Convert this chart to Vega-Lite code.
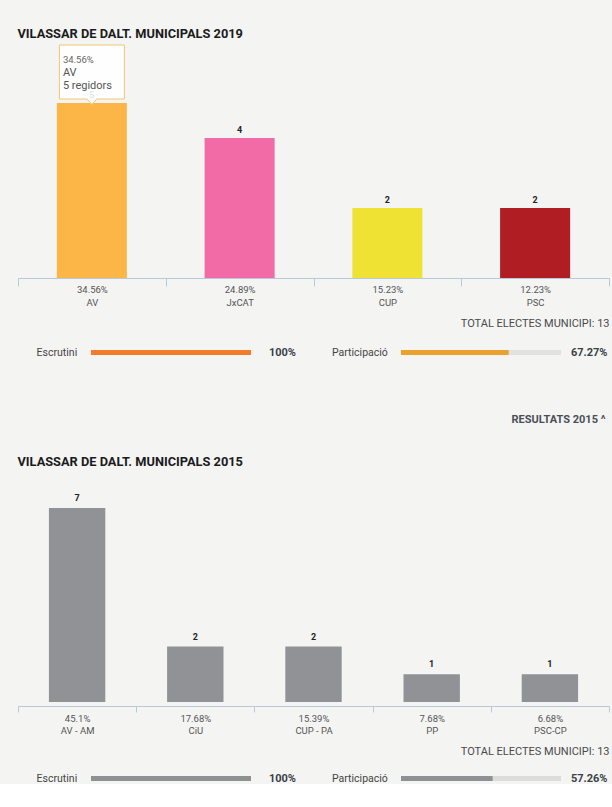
{
  "$schema": "https://vega.github.io/schema/vega-lite/v6.json",
  "background": "#f4f4f3",
  "padding": {"left": 17, "top": 28, "right": 3, "bottom": 0},
  "config": {
    "view": {"stroke": null},
    "font": "Roboto",
    "title": {"font": "Roboto"},
    "axis": {"labelFont": "Roboto", "titleFont": "Roboto"}
  },
  "datasets": {
    "r2019": [
      {"party": "AV", "pct": "34.56%", "seats": 5, "seatsText": "5 regidors", "xlabel": "34.56%|AV"},
      {"party": "JxCAT", "pct": "24.89%", "seats": 4, "seatsText": "4 regidors", "xlabel": "24.89%|JxCAT"},
      {"party": "CUP", "pct": "15.23%", "seats": 2, "seatsText": "2 regidors", "xlabel": "15.23%|CUP"},
      {"party": "PSC", "pct": "12.23%", "seats": 2, "seatsText": "2 regidors", "xlabel": "12.23%|PSC"}
    ],
    "r2015": [
      {"party": "AV - AM", "pct": "45.1%", "seats": 7, "xlabel": "45.1%|AV - AM"},
      {"party": "CiU", "pct": "17.68%", "seats": 2, "xlabel": "17.68%|CiU"},
      {"party": "CUP - PA", "pct": "15.39%", "seats": 2, "xlabel": "15.39%|CUP - PA"},
      {"party": "PP", "pct": "7.68%", "seats": 1, "xlabel": "7.68%|PP"},
      {"party": "PSC-CP", "pct": "6.68%", "seats": 1, "xlabel": "6.68%|PSC-CP"}
    ]
  },
  "spacing": 56,
  "vconcat": [
    {
      "spacing": 18,
      "vconcat": [
        {
          "width": 591,
          "height": 175,
          "title": {"text": "VILASSAR DE DALT. MUNICIPALS 2019", "anchor": "start", "fontSize": 12.8, "fontWeight": "bold", "color": "#1b1b1b", "offset": 2},
          "data": {"name": "r2019"},
          "encoding": {
            "x": {
              "field": "xlabel", "type": "nominal", "sort": null,
              "scale": {"paddingInner": 0, "paddingOuter": 0},
              "axis": {
                "title": "TOTAL ELECTES MUNICIPI: 13", "titleAnchor": "end", "titleFontSize": 11, "titleFontWeight": "normal", "titleColor": "#4a4a4a", "titlePadding": 10,
                "labelExpr": "isValid(datum.value) ? split(datum.value, '|') : ''", "labelFontSize": 9.5, "labelColor": "#555555", "labelLineHeight": 13, "labelPadding": -1.5, "labelBaseline": "top", "labelAngle": 0,
                "tickBand": "extent", "tickSize": 8, "tickColor": "#b9c9d9", "domainColor": "#b9c9d9", "offset": 0
              }
            },
            "y": {"field": "seats", "type": "quantitative", "scale": {"domain": [0, 5], "nice": false}, "axis": null}
          },
          "layer": [
            {
              "mark": {"type": "bar", "width": {"band": 0.474}},
              "encoding": {
                "color": {"field": "party", "type": "nominal", "scale": {"domain": ["AV", "JxCAT", "CUP", "PSC"], "range": ["#fbb647", "#f26ba6", "#f0e232", "#b01d23"]}, "legend": null}
              }
            },
            {
              "mark": {"type": "text", "dy": -8, "fontWeight": "bold", "fontSize": 9, "color": "#222222", "baseline": "middle"},
              "encoding": {"text": {"field": "seats", "type": "quantitative"}}
            },
            {
              "transform": [{"filter": "datum.party === 'AV'"}],
              "mark": {"type": "point", "shape": "M-1,-0.83L1,-0.83L1,0.83L0.15,0.83L0,1L-0.15,0.83L-1,0.83Z", "size": 4225, "filled": true, "fill": "#ffffff", "fillOpacity": 0.88, "opacity": 1, "stroke": "#f0c674", "strokeWidth": 1, "yOffset": -31}
            },
            {
              "transform": [{"filter": "datum.party === 'AV'"}],
              "mark": {"type": "text", "align": "left", "baseline": "middle", "dx": -29, "dy": -43, "fontSize": 9.5, "color": "#666666"},
              "encoding": {"text": {"field": "pct"}}
            },
            {
              "transform": [{"filter": "datum.party === 'AV'"}],
              "mark": {"type": "text", "align": "left", "baseline": "middle", "dx": -29, "dy": -30, "fontSize": 11, "color": "#555555"},
              "encoding": {"text": {"field": "party"}}
            },
            {
              "transform": [{"filter": "datum.party === 'AV'"}],
              "mark": {"type": "text", "align": "left", "baseline": "middle", "dx": -29, "dy": -17, "fontSize": 11, "color": "#555555"},
              "encoding": {"text": {"field": "seatsText"}}
            }
          ]
        },
        {
          "spacing": 0,
          "hconcat": [
            {
              "width": 17.5, "height": 5,
              "data": {"values": [{"gap": 0}]},
              "mark": {"type": "point", "opacity": 0, "size": 0},
              "encoding": {}
            },
            {
              "spacing": 35,
              "hconcat": [
                {
                  "width": 160,
                  "height": 5,
                  "data": {"values": [{"label": "Escrutini", "value": 100, "text": "100%"}]},
                  "encoding": {
                    "y": {"field": "label", "type": "nominal", "scale": {"paddingInner": 0, "paddingOuter": 0},
                      "axis": {"title": null, "domain": false, "ticks": false, "labelPadding": 14.3, "labelFontSize": 10.5, "labelColor": "#444444"}}
                  },
                  "layer": [
                    {"mark": {"type": "bar", "color": "#e1e1e1"}, "encoding": {"x": {"datum": 100, "type": "quantitative", "scale": {"domain": [0, 100]}, "axis": null}}},
                    {"mark": {"type": "bar", "color": "#f47b2a"}, "encoding": {"x": {"field": "value", "type": "quantitative", "scale": {"domain": [0, 100]}, "axis": null}}},
                    {"mark": {"type": "text", "align": "right", "baseline": "middle", "dx": 45, "fontWeight": "bold", "fontSize": 11, "color": "#3b3f48"}, "encoding": {"x": {"datum": 100, "type": "quantitative"}, "text": {"field": "text"}}}
                  ]
                },
                {
                  "width": 160,
                  "height": 5,
                  "data": {"values": [{"label": "Participació", "value": 67.27, "text": "67.27%"}]},
                  "encoding": {
                    "y": {"field": "label", "type": "nominal", "scale": {"paddingInner": 0, "paddingOuter": 0},
                      "axis": {"title": null, "domain": false, "ticks": false, "labelPadding": 13.7, "labelFontSize": 10.5, "labelColor": "#444444"}}
                  },
                  "layer": [
                    {"mark": {"type": "bar", "color": "#e1e1e1"}, "encoding": {"x": {"datum": 100, "type": "quantitative", "scale": {"domain": [0, 100]}, "axis": null}}},
                    {"mark": {"type": "bar", "color": "#eba12e"}, "encoding": {"x": {"field": "value", "type": "quantitative", "scale": {"domain": [0, 100]}, "axis": null}}},
                    {"mark": {"type": "text", "align": "right", "baseline": "middle", "dx": 46.5, "fontWeight": "bold", "fontSize": 11, "color": "#3b3f48"}, "encoding": {"x": {"datum": 100, "type": "quantitative"}, "text": {"field": "text"}}}
                  ]
                }
              ]
            }
          ]
        }
      ]
    },
    {
      "title": {"text": "RESULTATS 2015 ^", "anchor": "end", "fontSize": 11, "fontWeight": "bold", "color": "#4a4f57", "offset": 31, "dx": -4},
      "spacing": 15,
      "vconcat": [
        {
          "width": 591,
          "height": 194,
          "title": {"text": "VILASSAR DE DALT. MUNICIPALS 2015", "anchor": "start", "fontSize": 12.8, "fontWeight": "bold", "color": "#1b1b1b", "offset": 25},
          "data": {"name": "r2015"},
          "encoding": {
            "x": {
              "field": "xlabel", "type": "nominal", "sort": null,
              "scale": {"paddingInner": 0, "paddingOuter": 0},
              "axis": {
                "title": "TOTAL ELECTES MUNICIPI: 13", "titleAnchor": "end", "titleFontSize": 11, "titleFontWeight": "normal", "titleColor": "#4a4a4a", "titlePadding": 10,
                "labelExpr": "isValid(datum.value) ? split(datum.value, '|') : ''", "labelFontSize": 9.5, "labelColor": "#555555", "labelLineHeight": 12.6, "labelPadding": 1, "labelBaseline": "top", "labelAngle": 0,
                "tickBand": "extent", "tickSize": 6, "tickColor": "#b9c9d9", "domainColor": "#b9c9d9", "offset": 4
              }
            },
            "y": {"field": "seats", "type": "quantitative", "scale": {"domain": [0, 7], "nice": false}, "axis": null}
          },
          "layer": [
            {"mark": {"type": "bar", "color": "#909295", "width": {"band": 0.477}}},
            {
              "mark": {"type": "text", "dy": -10, "fontWeight": "bold", "fontSize": 9, "color": "#222222", "baseline": "middle"},
              "encoding": {"text": {"field": "seats", "type": "quantitative"}}
            }
          ]
        },
        {
          "spacing": 0,
          "hconcat": [
            {
              "width": 17.5, "height": 5,
              "data": {"values": [{"gap": 0}]},
              "mark": {"type": "point", "opacity": 0, "size": 0},
              "encoding": {}
            },
            {
              "spacing": 35,
              "hconcat": [
                {
                  "width": 160,
                  "height": 5,
                  "data": {"values": [{"label": "Escrutini", "value": 100, "text": "100%"}]},
                  "encoding": {
                    "y": {"field": "label", "type": "nominal", "scale": {"paddingInner": 0, "paddingOuter": 0},
                      "axis": {"title": null, "domain": false, "ticks": false, "labelPadding": 14.3, "labelFontSize": 10.5, "labelColor": "#444444"}}
                  },
                  "layer": [
                    {"mark": {"type": "bar", "color": "#dcdcdc"}, "encoding": {"x": {"datum": 100, "type": "quantitative", "scale": {"domain": [0, 100]}, "axis": null}}},
                    {"mark": {"type": "bar", "color": "#8e9194"}, "encoding": {"x": {"field": "value", "type": "quantitative", "scale": {"domain": [0, 100]}, "axis": null}}},
                    {"mark": {"type": "text", "align": "right", "baseline": "middle", "dx": 45, "fontWeight": "bold", "fontSize": 11, "color": "#3b3f48"}, "encoding": {"x": {"datum": 100, "type": "quantitative"}, "text": {"field": "text"}}}
                  ]
                },
                {
                  "width": 160,
                  "height": 5,
                  "data": {"values": [{"label": "Participació", "value": 57.26, "text": "57.26%"}]},
                  "encoding": {
                    "y": {"field": "label", "type": "nominal", "scale": {"paddingInner": 0, "paddingOuter": 0},
                      "axis": {"title": null, "domain": false, "ticks": false, "labelPadding": 13.7, "labelFontSize": 10.5, "labelColor": "#444444"}}
                  },
                  "layer": [
                    {"mark": {"type": "bar", "color": "#dcdcdc"}, "encoding": {"x": {"datum": 100, "type": "quantitative", "scale": {"domain": [0, 100]}, "axis": null}}},
                    {"mark": {"type": "bar", "color": "#8e9194"}, "encoding": {"x": {"field": "value", "type": "quantitative", "scale": {"domain": [0, 100]}, "axis": null}}},
                    {"mark": {"type": "text", "align": "right", "baseline": "middle", "dx": 46.5, "fontWeight": "bold", "fontSize": 11, "color": "#3b3f48"}, "encoding": {"x": {"datum": 100, "type": "quantitative"}, "text": {"field": "text"}}}
                  ]
                }
              ]
            }
          ]
        }
      ]
    }
  ]
}
